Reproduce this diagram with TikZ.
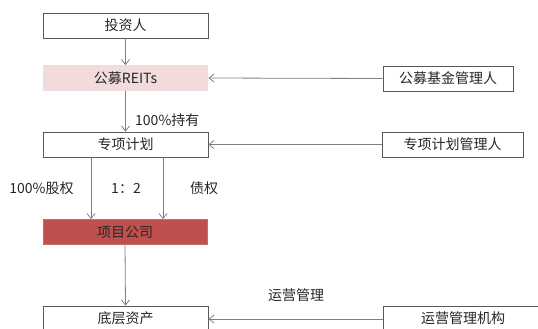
\documentclass[tikz,border=0pt]{standalone}
\usepackage{fontspec}
\setmainfont{Noto Sans CJK SC}
\usetikzlibrary{arrows.meta}
\definecolor{pinkfill}{HTML}{F2DCDB}
\definecolor{redfill}{HTML}{C0504D}
\definecolor{lineg}{HTML}{7F7F7F}
\definecolor{boxg}{HTML}{595959}
\definecolor{txt}{HTML}{262626}
\begin{document}
\begin{tikzpicture}[x=1pt,y=-1pt,
  box/.style={draw=boxg,line width=0.8pt,fill=white,minimum height=25pt,inner sep=0pt,text=txt,font=\fontsize{14}{16}\selectfont},
  conn/.style={draw=lineg,line width=0.8pt,-{Straight Barb[length=5pt,width=8pt]}},
  lbl/.style={text=txt,font=\fontsize{14}{16}\selectfont,inner sep=0pt}]
\useasboundingbox (0,0) rectangle (538,329);
\clip (0,0) rectangle (538,329);
\node[box,minimum width=165pt] (inv) at (125.5,25.5) {投资人};
\node[box,draw=none,fill=pinkfill,minimum width=165pt] (reit) at (125.5,78) {公募REITs};
\node[box,minimum width=165pt] (plan) at (125.5,144.5) {专项计划};
\node[box,draw=redfill!85!white,fill=redfill,minimum width=164pt] (co) at (125,232) {项目公司};
\node[box,minimum width=165pt] (asset) at (125.5,318.5) {底层资产};
\node[box,minimum width=130pt] (fm) at (448,78.5) {公募基金管理人};
\node[box,minimum width=141pt] (pm) at (452.5,144.5) {专项计划管理人};
\node[box,minimum width=160pt] (om) at (463,318.5) {运营管理机构};
\draw[conn] (inv.south) -- (reit.north);
\draw[conn] (reit.south) -- (plan.north);
\draw[conn] (plan.south -| 91,0) -- (co.north -| 91,0);
\draw[conn] (plan.south -| 163,0) -- (co.north -| 163,0);
\draw[conn] (co.south) -- (asset.north);
\draw[conn] (fm.west) -- (reit.east);
\draw[conn] (pm.west) -- (plan.east);
\draw[conn] (om.west |- 0,319) -- (asset.east |- 0,319);
\node[lbl,anchor=west] (l1) at (135,120) {100\%持有};
\node[lbl] (l2) at (41.5,188) {100\%股权};
\node[lbl] (l3) at (126,188) {1：2};
\node[lbl] (l4) at (204,188) {债权};
\node[lbl] (l5) at (296,295) {运营管理};
\end{tikzpicture}
\end{document}
